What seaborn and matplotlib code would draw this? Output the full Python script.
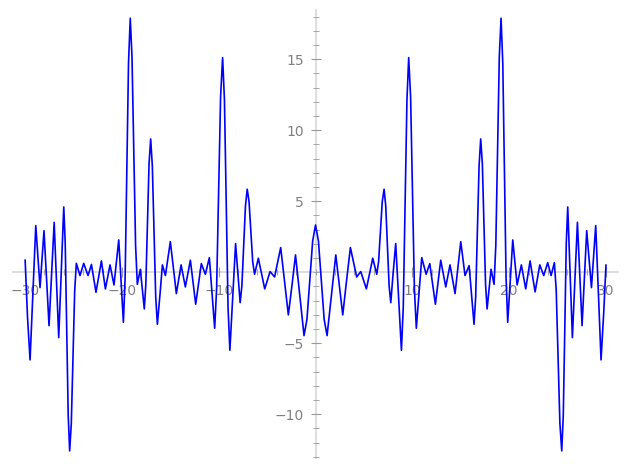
import pandas as pd
import matplotlib
matplotlib.use("Agg")
import matplotlib.pyplot as plt
from matplotlib.ticker import MultipleLocator, FixedLocator
import seaborn as sns

# values (left half, centre, right half)
x_neg = [-30.0, -29.75, -29.49, -29.2, -28.9, -28.46, -28.05, -27.79, -27.53, -27.27,
         -27.0, -26.77, -26.53, -26.27, -26.01, -25.86, -25.7, -25.55, -25.4, -25.23,
         -25.05, -24.88, -24.71, -24.33, -23.95, -23.5, -23.15, -22.68, -22.12, -21.71,
         -21.23, -20.82, -20.33, -20.09, -19.85, -19.67, -19.5, -19.32, -19.14, -18.96,
         -18.78, -18.59, -18.41, -18.1, -17.69, -17.53, -17.36, -17.2, -17.03, -16.86,
         -16.69, -16.51, -16.34, -16.07, -15.82, -15.51, -15.0, -14.69, -14.38, -13.89,
         -13.45, -12.93, -12.38, -11.8, -11.38, -10.97, -10.7, -10.42, -10.22, -10.01,
         -9.81, -9.6, -9.41, -9.23, -9.04, -8.85, -8.56, -8.26, -8.03, -7.79,
         -7.61, -7.43, -7.24, -7.06, -6.87, -6.68, -6.49, -6.3, -5.91, -5.25,
         -4.7, -4.23, -3.6, -3.2, -2.81, -2.43, -2.07, -1.63, -1.19, -0.89,
         -0.6, -0.3]
y_neg = [0.87, -3.2, -6.17, -1.44, 3.29, -1.08, 2.93, -0.42, -3.76, -0.12,
         3.52, -0.54, -4.6, 0.0, 4.6, 2.09, -3.99, -10.07, -12.58, -10.65,
         -5.98, -1.3, 0.63, -0.23, 0.63, -0.23, 0.55, -1.41, 0.8, -1.17,
         0.52, -0.89, 2.28, -0.62, -3.52, -0.39, 7.19, 14.76, 17.89, 15.15,
         8.52, 1.89, -0.85, 0.21, -2.58, -0.83, 3.4, 7.64, 9.39, 7.48,
         2.87, -1.75, -3.66, -1.57, 0.52, -0.23, 2.16, 0.33, -1.5, 0.52,
         -1.03, 0.85, -2.25, 0.61, -0.14, 1.03, -1.45, -3.94, -1.16, 5.59,
         12.34, 15.12, 12.11, 4.82, -2.48, -5.49, -1.74, 2.02, -0.06, -2.14,
         -0.97, 1.86, 4.68, 5.85, 4.98, 2.86, 0.73, -0.14, 0.99, -1.17,
         0.05, -0.33, 1.74, -0.63, -3.0, -0.89, 1.22, -1.62, -4.46, -3.32,
         -0.56, 2.19]

x_mid = [0.0]
y_mid = [3.33]

x_pos = [0.3, 0.6, 0.89, 1.19, 1.64, 2.09, 2.45, 2.81, 3.2, 3.6,
         4.25, 4.67, 5.25, 5.91, 6.32, 6.51, 6.7, 6.89, 7.08, 7.25,
         7.43, 7.6, 7.77, 8.02, 8.28, 8.58, 8.87, 9.06, 9.25, 9.44,
         9.62, 9.82, 10.02, 10.21, 10.41, 10.69, 10.97, 11.42, 11.8, 12.38,
         12.93, 13.45, 13.89, 14.41, 14.7, 15.0, 15.44, 15.86, 16.11, 16.37,
         16.54, 16.72, 16.89, 17.06, 17.23, 17.39, 17.56, 17.72, 18.13, 18.44,
         18.62, 18.8, 18.98, 19.16, 19.34, 19.51, 19.68, 19.85, 20.11, 20.37,
         20.82, 21.26, 21.71, 22.16, 22.68, 23.16, 23.57, 23.98, 24.33, 24.67,
         24.86, 25.05, 25.24, 25.43, 25.59, 25.74, 25.9, 26.05, 26.29, 26.53,
         26.79, 27.05, 27.29, 27.53, 27.77, 28.01, 28.5, 28.94, 29.22, 29.49,
         29.77, 30.0]
y_pos = [2.19, -0.56, -3.32, -4.46, -1.6, 1.22, -0.9, -3.0, -0.6, 1.74,
         -0.33, 0.05, -1.17, 0.99, -0.14, 0.73, 2.86, 4.98, 5.85, 4.68,
         1.86, -0.97, -2.14, 0.0, 2.02, -1.74, -5.49, -2.48, 4.82, 12.11,
         15.12, 12.34, 5.59, -1.16, -3.94, -1.45, 1.03, -0.14, 0.61, -2.25,
         0.85, -1.03, 0.52, -1.5, 0.33, 2.16, -0.23, 0.47, -1.6, -3.66,
         -1.75, 2.87, 7.48, 9.39, 7.64, 3.4, -0.83, -2.58, 0.21, -0.85,
         1.89, 8.52, 15.15, 17.89, 14.76, 7.19, -0.39, -3.52, -0.62, 2.28,
         -0.89, 0.52, -1.17, 0.8, -1.38, 0.52, -0.23, 0.68, -0.23, 0.68,
         -1.26, -5.95, -10.64, -12.58, -10.07, -3.99, 2.09, 4.6, 0.0, -4.6,
         -0.54, 3.52, -0.12, -3.76, -0.42, 2.93, -1.08, 3.29, -1.44, -6.17,
         -2.8, 0.52]

x_ticks = [-30, -20, -10, 10, 20, 30]
y_ticks = [-10, -5, 5, 10, 15]

df = pd.DataFrame({"x": x_neg + x_mid + x_pos, "y": y_neg + y_mid + y_pos})

sns.set_style("white")
plt.rcParams["font.family"] = ["DejaVu Sans"]

fig = plt.figure(figsize=(6.27, 4.70), dpi=100)
ax = fig.add_axes([0.02, 0.0249, 0.965, 0.9547])

sns.lineplot(data=df, x="x", y="y", color="blue", linewidth=1.2,
             estimator=None, sort=False, ax=ax)

ax.set_xlim(-31.3, 31.2)
ax.set_ylim(-13.1, 18.5)
ax.set_xlabel("")
ax.set_ylabel("")

# axes crossing at the origin
for side in ["top", "right"]:
    ax.spines[side].set_visible(False)
for side in ["left", "bottom"]:
    ax.spines[side].set_position(("data", 0))
    ax.spines[side].set_color("#dddddd")
    ax.spines[side].set_linewidth(1.4)
    ax.spines[side].set_zorder(0)

ax.xaxis.set_major_locator(FixedLocator(x_ticks))
ax.yaxis.set_major_locator(FixedLocator(y_ticks))
ax.xaxis.set_minor_locator(MultipleLocator(2))
ax.yaxis.set_minor_locator(MultipleLocator(1))
ax.tick_params(which="both", bottom=True, left=True, top=False, right=False)
ax.tick_params(which="major", direction="inout", length=7, width=0.8,
               color="#999999", labelcolor="#808080", labelsize=10, pad=5)
ax.tick_params(which="minor", direction="inout", length=4, width=0.6,
               color="#999999")

fig.savefig("out.png", dpi=100)
